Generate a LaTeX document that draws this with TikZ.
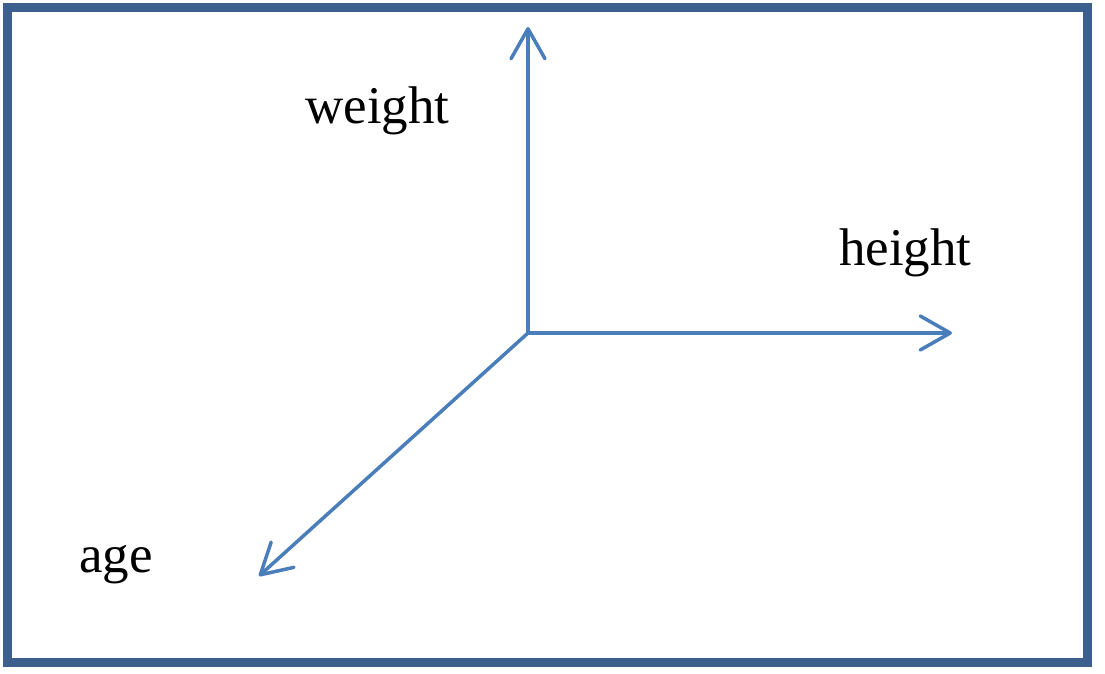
\documentclass[tikz,border=0pt]{standalone}
\usepackage{fontspec}
\setmainfont{Liberation Serif}
\usetikzlibrary{arrows.meta}
\definecolor{frame}{HTML}{3C5F8E}
\definecolor{axis}{HTML}{4A7EBB}
\begin{document}
\begin{tikzpicture}[x=1pt,y=-1pt,
  axisline/.style={draw=axis,line width=3.5pt,line cap=round,-{Straight Barb[length=30pt,width=34pt,line width=3.5pt,round]}},
  lbl/.style={anchor=base west,inner sep=0pt,font=\fontsize{53}{60}\selectfont}]
\useasboundingbox (0,0) rectangle (1105,674);
\fill[white] (0,0) rectangle (1105,674);
\draw[frame,line width=9pt] (7,8) rectangle (1087,662);
\coordinate (o) at (528,333);
\coordinate (up) at (528,27);
\coordinate (right) at (952,333);
\coordinate (dl) at (259,576);
\draw[axisline] (o) -- (up);
\draw[axisline] (o) -- (right);
\draw[axisline] (o) -- (dl);
\node[lbl] (w) at (305,124) {weight};
\node[lbl] (h) at (839,265) {height};
\node[lbl] (a) at (79,572) {age};
\end{tikzpicture}
\end{document}
